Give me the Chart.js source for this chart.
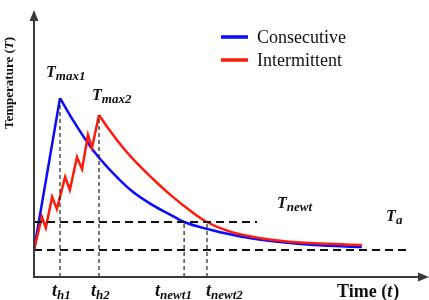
<!DOCTYPE html>
<html>
<head>
<meta charset="utf-8">
<script src="https://cdn.jsdelivr.net/npm/chart.js@4/dist/chart.umd.min.js"></script>
<style>
html,body{margin:0;padding:0;background:#fff;}
#wrap{width:429px;height:300px;}
</style>
</head>
<body>
<div id="wrap"><canvas id="c" width="429" height="300"></canvas></div>
<script>
// ---- Data (arbitrary units: time 0-100, temperature 0-100) ----
// Consecutive heating: straight rise, then cooling curve
const consecHeatTime = [0, 6.6];
const consecHeatTemp = [10.1, 67];
const consecCoolTime = [6.6, 10, 15, 20, 25, 30, 35, 38.1, 45, 50, 55, 63, 71, 83.2];
const consecCoolTemp = [67, 58.5, 47.5, 39, 32, 27, 23, 20.6, 17.6, 15.9, 14.5, 13, 12.0, 11.2];

// Intermittent heating: zig-zag rise, then cooling curve
const interHeatTime = [0, 2.0, 3.0, 4.6, 5.8, 7.9, 9.1, 10.9, 12.2, 13.7, 14.7, 16.5];
const interHeatTemp = [10.1, 22.5, 18.4, 30.0, 25.5, 37.5, 32.6, 44.9, 40.4, 53.2, 48.3, 60.7];
const interCoolTime = [16.5, 19, 22.6, 26, 31.2, 35, 39.6, 43.9, 50, 55, 63, 71, 83.2];
const interCoolTemp = [60.7, 55.3, 48.4, 42.8, 35.3, 30.3, 24.9, 20.6, 16.9, 15.2, 13.5, 12.6, 12.0];

const seriesNames = ['Consecutive', 'Intermittent'];
const tAmbient = 10.1, tNewt = 20.6;
const tH1 = 6.6, tH2 = 16.5, tNewt1 = 38.1, tNewt2 = 43.9;
const tMax1 = 67, tMax2 = 60.7;
const ambientEnd = 94.7, newtEnd = 56.6;

const pts = (xs, ys) => xs.map((x, i) => ({x, y: ys[i]}));

const BLUE = '#0a0aff', RED = '#ff1a0a';
const hDash = {borderColor:'#111', borderWidth:2, borderDash:[8,5], pointRadius:0, fill:false, tension:0};
const vDash = {borderColor:'#222', borderWidth:1.2, borderDash:[4,3], pointRadius:0, fill:false, tension:0};

const serif = '"Liberation Serif", "DejaVu Serif", serif';

function sub(ctx, main, s, x, y, size, subSize, off) {
  ctx.font = 'italic bold ' + size + 'px ' + serif;
  ctx.fillText(main, x, y);
  const w = ctx.measureText(main).width;
  ctx.font = 'italic bold ' + subSize + 'px ' + serif;
  ctx.fillText(s, x + w, y + off);
}

const annot = {
  id: 'annot',
  afterDraw(chart) {
    const ctx = chart.ctx, xs = chart.scales.x, ys = chart.scales.y, a = chart.chartArea;
    ctx.save();
    // axes
    ctx.strokeStyle = '#3a3a3a'; ctx.fillStyle = '#3a3a3a'; ctx.lineWidth = 2;
    ctx.beginPath();
    ctx.moveTo(a.left, a.top + 8); ctx.lineTo(a.left, a.bottom);
    ctx.lineTo(a.right - 8, a.bottom);
    ctx.stroke();
    ctx.beginPath();
    ctx.moveTo(a.left, a.top); ctx.lineTo(a.left - 4.5, a.top + 11); ctx.lineTo(a.left + 4.5, a.top + 11); ctx.closePath(); ctx.fill();
    ctx.beginPath();
    ctx.moveTo(a.right + 1, a.bottom); ctx.lineTo(a.right - 10, a.bottom - 4.5); ctx.lineTo(a.right - 10, a.bottom + 4.5); ctx.closePath(); ctx.fill();

    ctx.fillStyle = '#111';
    ctx.textBaseline = 'alphabetic'; ctx.textAlign = 'left';
    // temperature labels
    sub(ctx, 'T', 'max1', xs.getPixelForValue(tH1) - 14, ys.getPixelForValue(tMax1) - 21, 16, 13, 3);
    sub(ctx, 'T', 'max2', xs.getPixelForValue(tH2) - 7, ys.getPixelForValue(tMax2) - 15, 16, 13, 3);
    sub(ctx, 'T', 'newt', xs.getPixelForValue(newtEnd) + 20, ys.getPixelForValue(tNewt) - 14, 16, 13, 3);
    sub(ctx, 'T', 'a', xs.getPixelForValue(ambientEnd) - 21, ys.getPixelForValue(tAmbient) - 29, 16, 13, 3);
    // time labels
    const by = a.bottom + 19;
    sub(ctx, 't', 'h1', xs.getPixelForValue(tH1) - 8, by, 18, 13, 3);
    sub(ctx, 't', 'h2', xs.getPixelForValue(tH2) - 8, by, 18, 13, 3);
    sub(ctx, 't', 'newt1', xs.getPixelForValue(tNewt1) - 29, by, 18, 13, 3);
    sub(ctx, 't', 'newt2', xs.getPixelForValue(tNewt2) - 1, by, 18, 13, 3);
    // axis titles
    const tx = 337;
    ctx.font = 'bold 18px ' + serif;
    ctx.fillText('Time (', tx, by + 1);
    let w = ctx.measureText('Time (').width;
    ctx.font = 'italic bold 18px ' + serif;
    ctx.fillText('t', tx + w, by + 1);
    w += ctx.measureText('t').width + 1;
    ctx.font = 'bold 18px ' + serif;
    ctx.fillText(')', tx + w, by + 1);

    ctx.save();
    ctx.translate(13, 83); ctx.rotate(-Math.PI / 2);
    ctx.font = 'bold 13px ' + serif;
    const p1 = 'Temperature (', p2 = 'T', p3 = ')';
    const w1 = ctx.measureText(p1).width;
    ctx.font = 'italic bold 13px ' + serif;
    const w2 = ctx.measureText(p2).width;
    ctx.font = 'bold 13px ' + serif;
    const w3 = ctx.measureText(p3).width;
    let sx = -(w1 + w2 + w3) / 2;
    ctx.fillText(p1, sx, 0);
    ctx.font = 'italic bold 13px ' + serif;
    ctx.fillText(p2, sx + w1, 0);
    ctx.font = 'bold 13px ' + serif;
    ctx.fillText(p3, sx + w1 + w2, 0);
    ctx.restore();

    // legend
    const cols = [BLUE, RED];
    seriesNames.forEach((n, i) => {
      const ly = 37 + i * 23;
      ctx.strokeStyle = cols[i]; ctx.lineWidth = 3.5;
      ctx.beginPath(); ctx.moveTo(221, ly); ctx.lineTo(248, ly); ctx.stroke();
      ctx.fillStyle = '#111';
      ctx.font = '18px ' + serif;
      ctx.fillText(n, 257, ly + 6);
    });
    ctx.restore();
  }
};

new Chart(document.getElementById('c'), {
  type: 'line',
  data: {
    datasets: [
      Object.assign({data: pts([0, ambientEnd], [tAmbient, tAmbient])}, hDash),
      Object.assign({data: pts([0, newtEnd], [tNewt, tNewt])}, hDash),
      Object.assign({data: pts([tH1, tH1], [0, tMax1])}, vDash),
      Object.assign({data: pts([tH2, tH2], [0, tMax2])}, vDash),
      Object.assign({data: pts([tNewt1, tNewt1], [0, tNewt])}, vDash),
      Object.assign({data: pts([tNewt2, tNewt2], [0, tNewt])}, vDash),
      {label: seriesNames[1], data: pts(interHeatTime, interHeatTemp), borderColor:RED, borderWidth:2.5, pointRadius:0, tension:0, fill:false, borderJoinStyle:'miter'},
      {label: seriesNames[1], data: pts(interCoolTime, interCoolTemp), borderColor:RED, borderWidth:2.5, pointRadius:0, cubicInterpolationMode:'monotone', fill:false},
      {label: seriesNames[0], data: pts(consecHeatTime, consecHeatTemp), borderColor:BLUE, borderWidth:2.5, pointRadius:0, tension:0, fill:false},
      {label: seriesNames[0], data: pts(consecCoolTime, consecCoolTemp), borderColor:BLUE, borderWidth:2.5, pointRadius:0, cubicInterpolationMode:'monotone', fill:false}
    ]
  },
  options: {
    responsive: false,
    animation: false,
    devicePixelRatio: 1,
    layout: {padding: {left: 34, right: 1, top: 10, bottom: 23}},
    plugins: {legend: {display: false}, tooltip: {enabled: false}},
    scales: {
      x: {type: 'linear', min: 0, max: 100, display: false},
      y: {type: 'linear', min: 0, max: 100, display: false}
    }
  },
  plugins: [annot]
});
</script>
</body>
</html>
